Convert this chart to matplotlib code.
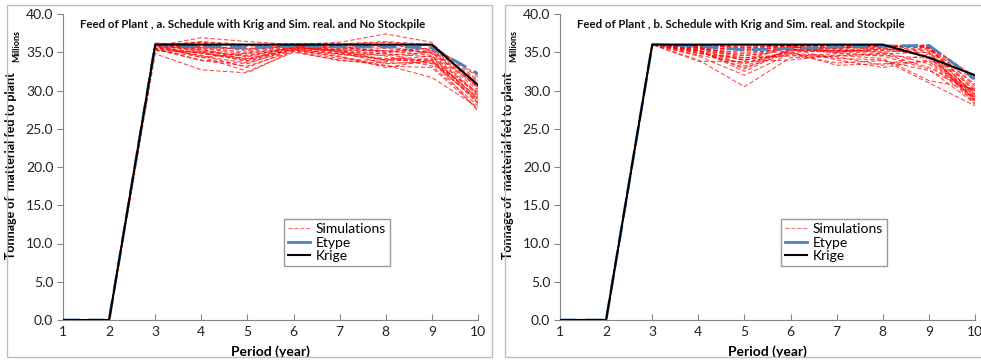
import matplotlib
matplotlib.use("Agg")
import matplotlib.pyplot as plt
from matplotlib.patches import Rectangle
from matplotlib.lines import Line2D

plt.rcParams['font.family'] = ['Lato', 'DejaVu Sans']

periods = [1, 2, 3, 4, 5, 6, 7, 8, 9, 10]

# ---- panel a: no stockpile (values in millions of tonnes) ----
krige_a = [0, 0, 36.0, 36.0, 36.0, 36.0, 36.0, 36.0, 36.0, 30.7]
etype_a = [0, 0, 36.0, 35.8, 35.6, 35.8, 35.7, 35.7, 35.6, 32.2]
sims_a = [
    [0, 0, 36.0, 35.8, 35.5, 35.9, 35.6, 35.2, 35.5, 31.0],
    [0, 0, 35.8, 36.9, 36.4, 36.0, 36.3, 37.4, 36.3, 30.2],
    [0, 0, 35.5, 34.6, 33.0, 35.4, 34.8, 34.0, 34.5, 29.5],
    [0, 0, 36.1, 35.2, 34.4, 35.7, 35.0, 33.5, 33.8, 28.6],
    [0, 0, 34.8, 32.7, 32.3, 35.2, 34.2, 33.8, 34.2, 29.0],
    [0, 0, 35.9, 36.2, 35.8, 36.1, 35.9, 36.0, 35.9, 31.8],
    [0, 0, 35.4, 34.0, 33.5, 35.5, 35.2, 34.5, 33.2, 28.0],
    [0, 0, 36.0, 35.5, 34.8, 35.8, 35.7, 35.5, 35.0, 30.5],
    [0, 0, 35.7, 34.8, 34.2, 35.3, 34.5, 33.0, 34.0, 27.3],
    [0, 0, 36.2, 36.0, 35.2, 36.0, 36.0, 36.3, 35.8, 32.0],
    [0, 0, 35.6, 35.0, 33.8, 35.6, 35.3, 34.8, 33.5, 28.8],
    [0, 0, 35.3, 34.4, 32.5, 35.0, 34.0, 33.3, 31.7, 27.8],
    [0, 0, 36.0, 35.6, 35.0, 35.9, 35.5, 35.0, 35.2, 30.0],
    [0, 0, 35.8, 35.3, 34.6, 35.6, 35.4, 35.8, 34.8, 29.3],
    [0, 0, 35.5, 34.9, 33.9, 35.4, 34.7, 34.2, 34.0, 28.3],
    [0, 0, 36.0, 36.3, 35.9, 36.1, 36.1, 36.4, 36.0, 31.4],
    [0, 0, 35.9, 35.4, 34.0, 35.8, 35.1, 33.9, 35.3, 30.8],
    [0, 0, 35.7, 34.5, 33.6, 35.3, 34.4, 33.2, 33.0, 27.6],
    [0, 0, 36.1, 35.7, 35.4, 35.9, 35.8, 35.0, 35.6, 31.2],
    [0, 0, 35.4, 33.9, 33.2, 35.1, 33.9, 33.6, 33.6, 29.8],
    [0, 0, 35.9, 35.1, 34.5, 35.7, 35.0, 34.8, 34.4, 28.9],
    [0, 0, 35.6, 35.6, 35.4, 35.8, 35.6, 36.0, 35.3, 30.4],
    [0, 0, 36.0, 34.3, 34.9, 35.5, 34.8, 34.6, 35.0, 29.6],
    [0, 0, 35.2, 35.0, 34.1, 35.6, 35.3, 35.2, 34.6, 28.4],
    [0, 0, 35.8, 36.4, 36.0, 36.0, 35.2, 34.0, 33.9, 29.1],
]

# ---- panel b: with stockpile ----
krige_b = [0, 0, 36.0, 36.0, 36.0, 36.0, 36.0, 36.0, 34.3, 32.0]
etype_b = [0, 0, 36.0, 35.8, 35.3, 35.5, 35.7, 35.8, 35.9, 31.5]
sims_b = [
    [0, 0, 36.0, 35.9, 35.8, 35.9, 35.9, 35.9, 35.9, 31.8],
    [0, 0, 36.0, 34.0, 30.5, 34.3, 34.5, 34.8, 33.0, 30.0],
    [0, 0, 36.0, 35.0, 33.5, 35.2, 35.0, 35.5, 34.5, 29.2],
    [0, 0, 36.0, 35.5, 34.8, 35.6, 35.5, 35.8, 35.6, 29.8],
    [0, 0, 36.0, 34.5, 32.0, 34.8, 34.2, 34.0, 31.0, 28.0],
    [0, 0, 36.0, 35.8, 35.2, 35.8, 35.7, 35.9, 35.8, 30.6],
    [0, 0, 36.0, 35.2, 34.0, 35.0, 33.3, 33.5, 33.8, 28.8],
    [0, 0, 36.0, 35.7, 33.2, 35.3, 35.2, 35.2, 35.0, 29.5],
    [0, 0, 36.0, 34.8, 34.3, 34.5, 34.8, 34.5, 32.8, 28.3],
    [0, 0, 36.0, 35.9, 35.5, 35.9, 35.8, 35.7, 35.9, 31.2],
    [0, 0, 36.0, 35.3, 32.8, 35.5, 34.0, 33.0, 34.0, 29.0],
    [0, 0, 36.0, 35.6, 34.5, 35.7, 35.4, 35.0, 35.5, 30.3],
    [0, 0, 36.0, 33.8, 33.8, 34.0, 34.6, 34.2, 31.3, 30.2],
    [0, 0, 36.0, 35.4, 35.0, 35.4, 35.0, 35.4, 35.2, 28.6],
    [0, 0, 36.0, 35.8, 34.2, 35.6, 35.6, 35.6, 35.4, 29.4],
    [0, 0, 36.0, 35.1, 33.0, 34.9, 34.4, 33.3, 34.8, 28.9],
    [0, 0, 36.0, 35.9, 35.6, 35.9, 35.9, 35.8, 35.7, 30.8],
    [0, 0, 36.0, 34.6, 33.6, 35.0, 35.3, 35.0, 33.5, 28.5],
    [0, 0, 36.0, 35.6, 35.4, 35.7, 34.9, 34.6, 34.2, 29.7],
    [0, 0, 36.0, 35.2, 34.6, 35.2, 35.5, 35.8, 35.7, 29.1],
    [0, 0, 36.0, 35.7, 33.9, 35.8, 35.1, 34.8, 35.0, 28.2],
    [0, 0, 36.0, 35.5, 35.3, 35.6, 35.7, 35.3, 36.0, 31.5],
    [0, 0, 36.0, 34.9, 34.0, 34.7, 33.6, 33.9, 32.6, 29.9],
    [0, 0, 36.0, 35.8, 35.7, 35.8, 35.6, 35.9, 35.6, 30.0],
    [0, 0, 36.0, 35.3, 32.5, 35.4, 35.2, 35.6, 34.4, 28.7],
]

titles = ["Feed of Plant , a. Schedule with Krig and Sim. real. and No Stockpile",
          "Feed of Plant , b. Schedule with Krig and Sim. real. and Stockpile"]
y_ticks = [0, 5, 10, 15, 20, 25, 30, 35, 40]

W, H = 981, 360
fig = plt.figure(figsize=(W / 100, H / 100), dpi=100)

# chart frames (Excel chart area borders)
for x0, x1 in [(7, 492), (505, 990)]:
    fig.patches.append(Rectangle((x0 / W, 1 - 357 / H), (x1 - x0) / W, 352 / H,
                                 transform=fig.transFigure, fill=False,
                                 edgecolor='#BFBFBF', linewidth=1.0))

panels = [
    (63, sims_a, etype_a, krige_a, titles[0], 284),
    (560, sims_b, etype_b, krige_b, titles[1], 781),
]

for x_left, sims, etype, krige, title, leg_x in panels:
    ax = fig.add_axes([x_left / W, 40 / H, 415 / W, 306 / H])

    for s in sims:
        ax.plot(periods, s, color='red', linestyle='--', linewidth=0.8,
                alpha=0.7, dashes=(4, 2), zorder=2)
    ax.plot(periods, etype, color='#4F81BD', linestyle='--', dashes=(6, 3),
            linewidth=2.0, zorder=3)
    ax.plot(periods, krige, color='black', linewidth=1.5, zorder=4)

    ax.set_xlim(1, 10)
    ax.set_ylim(0, 40)
    ax.set_xticks(periods)
    ax.set_yticks(y_ticks)
    ax.set_yticklabels([f"{v:.1f}" for v in y_ticks])
    ax.tick_params(axis='y', labelsize=10, length=4, color='#868686',
                   labelcolor='#222222', pad=3)
    ax.tick_params(axis='x', labelsize=10, length=4, direction='in',
                   color='#868686', labelcolor='#222222', pad=4)
    for side in ['top', 'right']:
        ax.spines[side].set_visible(False)
    for side in ['left', 'bottom']:
        ax.spines[side].set_color('#868686')
    ax.patch.set_alpha(0)

    ax.text(0.04, 0.965, title, transform=ax.transAxes, fontsize=8.3,
            fontweight='bold', ha='left', va='center', color='#111111')

    ax.set_xlabel("Period (year)", fontsize=10, fontweight='bold')
    ax.xaxis.set_label_coords(0.5, -0.082)
    ax.set_ylabel("Tonnage of  matterial fed to plant", fontsize=9,
                  fontweight='bold')
    ax.yaxis.set_label_coords(-0.11, 0.505)
    ax.text(-0.112, 0.895, "Millions", transform=ax.transAxes, rotation=90,
            fontsize=6.5, fontweight='bold', ha='center', va='center')

    handles = [Line2D([], [], color='red', linestyle='--', linewidth=0.8, alpha=0.55),
               Line2D([], [], color='#4F81BD', linewidth=2.0),
               Line2D([], [], color='black', linewidth=1.5)]
    leg = ax.legend(handles, ["Simulations", "Etype", "Krige"],
                    loc='upper left',
                    bbox_to_anchor=((leg_x - x_left) / 415, (320 - 219) / 306),
                    fontsize=10, frameon=True, fancybox=False,
                    handlelength=1.6, handletextpad=0.4, labelspacing=0.1,
                    borderpad=0.3, borderaxespad=0)
    leg.get_frame().set_edgecolor('#7F7F7F')
    leg.get_frame().set_linewidth(1.0)

fig.savefig("out.png", dpi=100)
